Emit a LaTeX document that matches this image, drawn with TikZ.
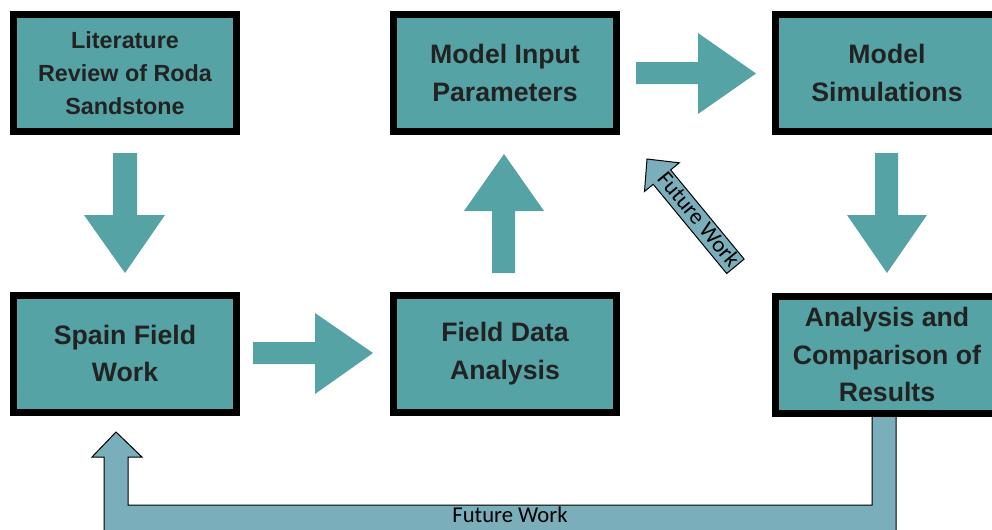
\documentclass[tikz,border=0pt]{standalone}
\usepackage{fontspec}
\setmainfont{Liberation Sans}
\newfontfamily\calfont{Carlito}
\definecolor{tealbox}{HTML}{55A3A5}
\definecolor{tealfw}{HTML}{7AAEBA}
\definecolor{txtc}{HTML}{222222}
\begin{document}
\begin{tikzpicture}[x=0.75pt,y=-0.75pt,
  box/.style={draw=black, line width=5.25pt, fill=tealbox, minimum width=167.25pt,
    minimum height=87.75pt, inner sep=0pt, align=center, text=txtc,
    font=\bfseries\fontsize{20}{28}\selectfont},
  smallbox/.style={box, font=\bfseries\fontsize{17.5}{24.75}\selectfont},
  blockarrow/.style={fill=tealbox, draw=none},
  fwarrow/.style={fill=tealfw, draw=black, line width=0.75pt, line join=miter},
  fwtext/.style={font=\calfont\fontsize{17}{18}\selectfont, text=black, inner sep=0pt}]
\useasboundingbox (0,0) rectangle (992,529);
\clip (0,0) rectangle (992,529);

% future work elbow arrow (drawn first, under box)
\draw[fwarrow] (872,410) -- (872,505) -- (128,505) -- (128,457) -- (142,457)
  -- (116,432) -- (92,457) -- (104,457) -- (104,531) -- (896,531) -- (896,410) -- cycle;
\node[fwtext] (fw1) at (510,515) {Future Work};

% diagonal future work arrow
\draw[fwarrow] (647,159) -- (679.3,162.8) -- (670.6,169.9) -- (744.1,259.1)
  -- (726.7,273.5) -- (653.2,184.3) -- (644.5,191.4) -- cycle;
\node[fwtext, rotate=-50.5] (fw2) at (699,219) {Future Work};

% boxes
\node[smallbox] (lit) at (125,73) {Literature\\Review of Roda\\Sandstone};
\node[box] (mip) at (505,73) {Model Input\\Parameters};
\node[box] (sim) at (887,73) {Model\\Simulations};
\node[box] (spain) at (125,353.5) {Spain Field\\Work};
\node[box] (fda) at (505,353.5) {Field Data\\Analysis};
\node[box] (acr) at (887,354.5) {Analysis and\\Comparison of\\Results};

% block arrows
\fill[blockarrow] (113,153) -- (137,153) -- (137,215) -- (165,215) -- (125,273)
  -- (84,215) -- (113,215) -- cycle;
\fill[blockarrow] (253,342) -- (315,342) -- (315,313) -- (373,353) -- (315,394)
  -- (315,364) -- (253,364) -- cycle;
\fill[blockarrow] (492,273) -- (515,273) -- (515,211) -- (544,211) -- (504,154)
  -- (464,211) -- (492,211) -- cycle;
\fill[blockarrow] (636,62) -- (698,62) -- (698,33) -- (756,73.5) -- (698,114)
  -- (698,84) -- (636,84) -- cycle;
\fill[blockarrow] (875,153) -- (898,153) -- (898,215) -- (927,215) -- (887,273)
  -- (847,215) -- (875,215) -- cycle;
\end{tikzpicture}
\end{document}
